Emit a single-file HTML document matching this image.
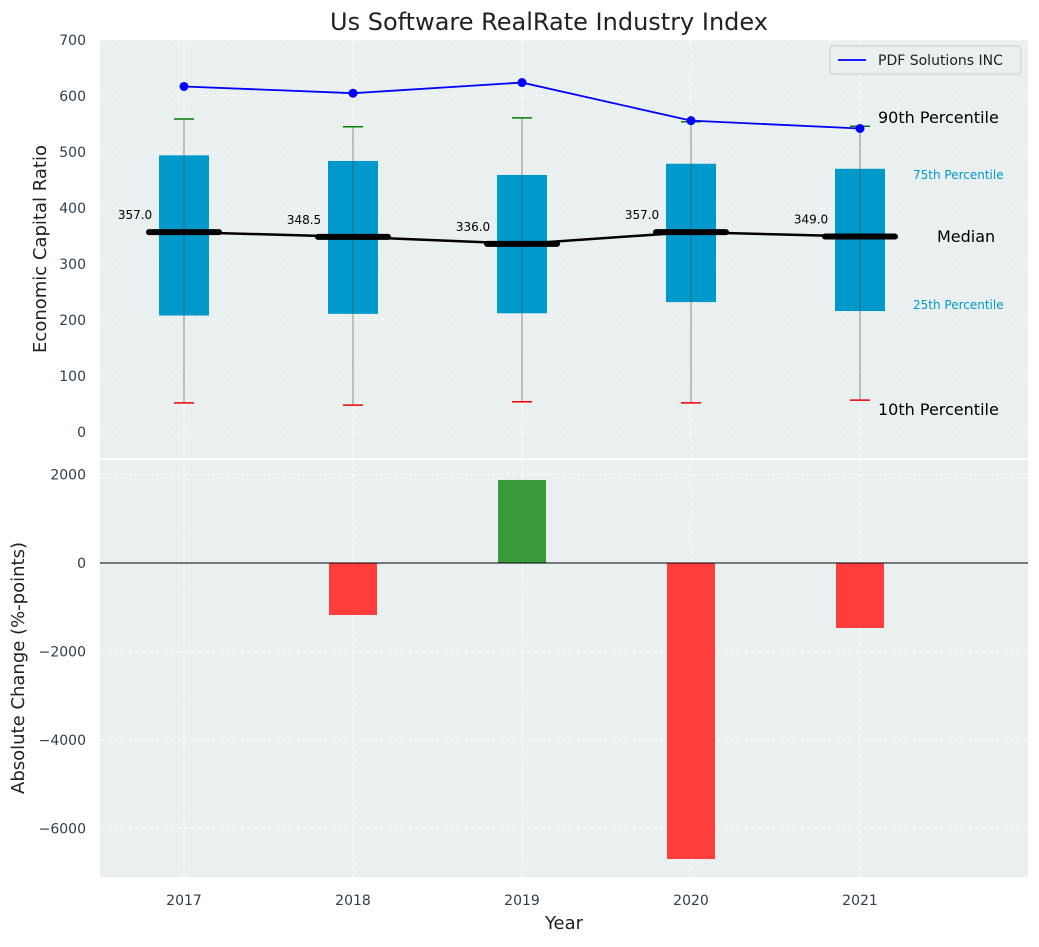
<!DOCTYPE html>
<html><head><meta charset="utf-8"><style>
body{margin:0;background:#fff;font-family:"Liberation Sans","DejaVu Sans",sans-serif}
svg text{font-family:"DejaVu Sans","Liberation Sans",sans-serif}
</style></head><body>
<svg id="chart" width="1039" height="942" xmlns="http://www.w3.org/2000/svg">
<rect width="1039" height="942" fill="#fff"/>
<g id="topPanel"></g>
<g id="botPanel"></g>
</svg>
<script>
const years=[2017,2018,2019,2020,2021];
const p10=[52,48,54,52,57];
const p25=[208,211,212,232,216];
const med=[357.0,348.5,336.0,357.0,349.0];
const p75=[494,484,459,479,470];
const p90=[559,545,561,554,546];
const company=[617,605,624,556,542];
const change=[0,-1175,1876,-6690,-1469];
const topTicks=[0,100,200,300,400,500,600,700];
const botTicks=[2000,0,-2000,-4000,-6000];

const NS="http://www.w3.org/2000/svg";
function mk(parent,tag,attrs,name,text){const e=document.createElementNS(NS,tag);for(const k in attrs)e.setAttribute(k,attrs[k]);


if(text!==undefined)e.textContent=text;parent.appendChild(e);return e;}
const L=100,R=1028;
const xs=v=>184+(v-2017)*169;
const yt=v=>432-0.56*v;
const yb=v=>563-0.04425*v;
const gTop=document.getElementById('topPanel'),gBot=document.getElementById('botPanel');
mk(gTop,'rect',{x:L,y:40,width:R-L,height:418,fill:'#eaeff0'},'top-plot-area');
mk(gBot,'rect',{x:L,y:460,width:R-L,height:417,fill:'#eaeff0'},'bottom-plot-area');
mk(gTop,'text',{x:549,y:30,'text-anchor':'middle','font-size':24,fill:'#222'},'chart-title','Us Software RealRate Industry Index');
topTicks.forEach(t=>{const yy=yt(t);
mk(gTop,'line',{x1:L,x2:R,y1:yy,y2:yy,stroke:'#fff','stroke-dasharray':'4,3','stroke-width':1},'y-gridline');
mk(gTop,'text',{x:86,y:yy+5,'text-anchor':'end','font-size':14,fill:'#2d3e50'},'y-tick-label',t);});
years.forEach(yr=>{mk(gTop,'line',{x1:xs(yr),x2:xs(yr),y1:40,y2:458,stroke:'#fff','stroke-dasharray':'4,3'},'x-gridline');
mk(gBot,'line',{x1:xs(yr),x2:xs(yr),y1:460,y2:877,stroke:'#fff','stroke-dasharray':'4,3'},'x-gridline');
mk(gBot,'text',{x:xs(yr),y:905,'text-anchor':'middle','font-size':14,fill:'#2d3e50'},'x-tick-label',yr);});
botTicks.forEach(t=>{const yy=yb(t);
mk(gBot,'line',{x1:L,x2:R,y1:yy,y2:yy,stroke:'#fff','stroke-dasharray':'4,3'},'y-gridline');
mk(gBot,'text',{x:86,y:yy+5,'text-anchor':'end','font-size':14,fill:'#2d3e50'},'y-tick-label',t<0?'\u2212'+(-t):t);});
years.forEach((yr,i)=>{const cx=xs(yr);
mk(gTop,'rect',{x:cx-25,y:yt(p75[i]),width:50,height:yt(p25[i])-yt(p75[i]),fill:'#0099cc'},'iqr-box');
mk(gTop,'line',{x1:cx,x2:cx,y1:yt(p90[i]),y2:yt(p10[i]),stroke:'#444','stroke-opacity':0.6,'stroke-width':1},'whisker');
mk(gTop,'line',{x1:cx-10,x2:cx+10,y1:yt(p90[i]),y2:yt(p90[i]),stroke:'green','stroke-width':1.5},'p90-cap');
mk(gTop,'line',{x1:cx-10,x2:cx+10,y1:yt(p10[i]),y2:yt(p10[i]),stroke:'#e00','stroke-width':1.5},'p10-cap');
mk(gTop,'line',{x1:cx-35,x2:cx+35,y1:yt(med[i]),y2:yt(med[i]),stroke:'#000','stroke-width':6,'stroke-linecap':'round'},'median-bar');
mk(gTop,'text',{x:cx-49,y:yt(med[i])-13,'text-anchor':'middle','font-size':12,fill:'#000'},'median-label',med[i].toFixed(1));});
mk(gTop,'polyline',{points:years.map((yr,i)=>xs(yr)+','+yt(med[i])).join(' '),fill:'none',stroke:'#000','stroke-width':2.5},'median-line');
mk(gTop,'polyline',{points:years.map((yr,i)=>xs(yr)+','+yt(company[i])).join(' '),fill:'none',stroke:'#0000ff','stroke-width':1.8},'company-line');
years.forEach((yr,i)=>mk(gTop,'circle',{cx:xs(yr),cy:yt(company[i]),r:4.5,fill:'#0000ff'},'company-point'));
const lx=xs(2021);
mk(gTop,'text',{x:lx+18,y:123,'font-size':16,fill:'#000'},'p90-annotation','90th Percentile');
mk(gTop,'text',{x:lx+53,y:179,'font-size':12,fill:'#0099cc'},'p75-annotation','75th Percentile');
mk(gTop,'text',{x:lx+77,y:242,'font-size':16,fill:'#000'},'median-annotation','Median');
mk(gTop,'text',{x:lx+53,y:309,'font-size':12,fill:'#0099cc'},'p25-annotation','25th Percentile');
mk(gTop,'text',{x:lx+18,y:415,'font-size':16,fill:'#000'},'p10-annotation','10th Percentile');
const lg=mk(gTop,'g',{},'legend');
mk(lg,'rect',{x:830,y:46,width:191,height:28,rx:3,fill:'#eaeff0',stroke:'#ccc'},'legend-box');
mk(lg,'line',{x1:838,x2:866,y1:60,y2:60,stroke:'#0000ff','stroke-width':1.8},'legend-swatch');
mk(lg,'text',{x:878,y:65,'font-size':14,fill:'#222'},'legend-entry','PDF Solutions INC');
mk(gTop,'text',{x:46,y:249,'text-anchor':'middle','font-size':18,fill:'#222',transform:'rotate(-90 46 249)'},'y-axis-title','Economic Capital Ratio');
years.forEach((yr,i)=>{if(!change[i])return;const y0=yb(0),y1=yb(change[i]);
mk(gBot,'rect',{x:xs(yr)-24,y:Math.min(y0,y1),width:48,height:Math.abs(y1-y0),fill:change[i]>0?'#3a9a3a':'#ff3d3d'},'change-bar');});
mk(gBot,'line',{x1:L,x2:R,y1:yb(0),y2:yb(0),stroke:'#000','stroke-width':1},'zero-line');
mk(gBot,'text',{x:24,y:668,'text-anchor':'middle','font-size':18,fill:'#222',transform:'rotate(-90 24 668)'},'y-axis-title-bottom','Absolute Change (%-points)');
mk(gBot,'text',{x:564,y:929,'text-anchor':'middle','font-size':18,fill:'#222'},'x-axis-title','Year');
</script>
</body></html>
